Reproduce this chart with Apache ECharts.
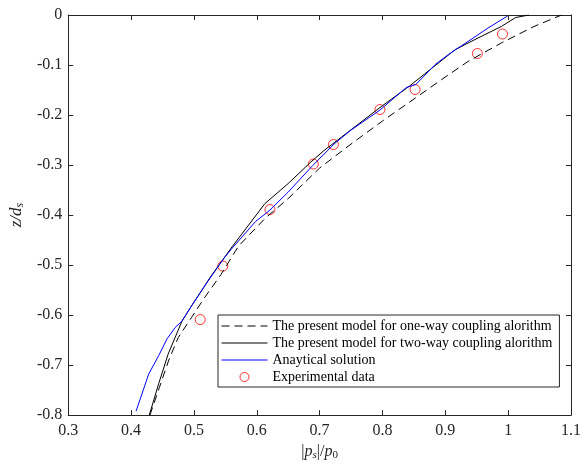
<!DOCTYPE html>
<html><head><meta charset="utf-8">
<script src="https://cdn.jsdelivr.net/npm/echarts@6/dist/echarts.min.js"></script>
<style>html,body{margin:0;padding:0;background:#fff}#c{width:584px;height:466px}</style>
</head><body><div id="c"></div>
<script>
var xTicks = [0.3, 0.4, 0.5, 0.6, 0.7, 0.8, 0.9, 1.0, 1.1];
var yTicks = [0, -0.1, -0.2, -0.3, -0.4, -0.5, -0.6, -0.7, -0.8];
var seriesNames = ['The present model for one-way coupling alorithm','The present model for two-way coupling alorithm','Anaytical solution','Experimental data'];
var oneWayX = [0.430,0.445,0.460,0.475,0.496,0.517,0.543,0.571,0.613,0.650,0.700,0.750,0.800,0.850,0.900,0.936,0.989,1.041,1.085];
var oneWayY = [-0.800,-0.745,-0.690,-0.645,-0.605,-0.565,-0.519,-0.462,-0.407,-0.367,-0.306,-0.258,-0.212,-0.168,-0.124,-0.093,-0.056,-0.023,0.000];
var twoWayX = [0.429,0.444,0.459,0.470,0.481,0.496,0.517,0.525,0.561,0.587,0.613,0.650,0.686,0.707,0.796,0.843,0.890,0.916,0.952,0.989,1.012,1.033];
var twoWayY = [-0.800,-0.737,-0.678,-0.645,-0.612,-0.582,-0.542,-0.526,-0.463,-0.420,-0.377,-0.337,-0.294,-0.271,-0.185,-0.142,-0.095,-0.069,-0.046,-0.023,-0.005,0.000];
var analyticX = [0.408,0.428,0.444,0.457,0.470,0.481,0.496,0.517,0.548,0.561,0.598,0.621,0.650,0.689,0.723,0.749,0.796,0.838,0.853,0.884,0.905,0.936,0.968,0.999];
var analyticY = [-0.792,-0.718,-0.681,-0.648,-0.625,-0.612,-0.582,-0.542,-0.486,-0.466,-0.413,-0.390,-0.354,-0.301,-0.258,-0.231,-0.190,-0.145,-0.139,-0.099,-0.079,-0.053,-0.026,-0.002];
var expX = [0.510,0.546,0.621,0.690,0.722,0.796,0.852,0.951,0.991];
var expY = [-0.609,-0.502,-0.389,-0.298,-0.259,-0.189,-0.149,-0.077,-0.038];

function pairs(xs, ys){ return xs.map(function(x,i){ return [x, ys[i]]; }); }

var axisCol = '#262626';
var serif = '"Liberation Serif","DejaVu Serif",serif';
var chart = echarts.init(document.getElementById('c'), null, {renderer:'canvas'});
var baseX = {type:'value', min:0.3, max:1.1, interval:0.1, splitLine:{show:false},
  axisLine:{show:true, onZero:false, lineStyle:{color:axisCol, width:1}},
  axisTick:{show:true, inside:true, length:5, lineStyle:{color:axisCol}}};
var baseY = {type:'value', min:-0.8, max:0, interval:0.1, splitLine:{show:false},
  axisLine:{show:true, onZero:false, lineStyle:{color:axisCol, width:1}},
  axisTick:{show:true, inside:true, length:5, lineStyle:{color:axisCol}}};
var option = {
  animation:false,
  backgroundColor:'#fff',
  grid:{left:66, right:7, top:15, bottom:48, containLabel:false},
  xAxis:[
    Object.assign({}, baseX, {position:'bottom',
      axisLabel:{show:true, color:'#262626', fontFamily:serif, fontSize:16, margin:8},
      name:'{n||}{i|p}{si|s}{n||/}{i|p}{sub|0}', nameLocation:'middle', nameGap:25,
      nameTextStyle:{color:'#262626', fontFamily:serif, fontSize:16,
        rich:{n:{fontFamily:serif,fontSize:16,color:'#262626'},
              i:{fontFamily:serif,fontSize:16,fontStyle:'italic',color:'#262626'},
              si:{fontFamily:serif,fontSize:11,fontStyle:'italic',color:'#262626',padding:[7,0,0,0]},
              sub:{fontFamily:serif,fontSize:11,color:'#262626',padding:[7,0,0,0]}}}}),
    Object.assign({}, baseX, {position:'top', axisLabel:{show:false}})
  ],
  yAxis:[
    Object.assign({}, baseY, {position:'left',
      axisLabel:{show:true, color:'#262626', fontFamily:serif, fontSize:16, margin:6},
      name:'{i|z/d}{si|s}', nameLocation:'middle', nameGap:40, nameRotate:90,
      nameTextStyle:{color:'#262626', fontFamily:serif, fontSize:17,
        rich:{i:{fontFamily:serif,fontSize:17,fontStyle:'italic',color:'#262626'},
              si:{fontFamily:serif,fontSize:12,fontStyle:'italic',color:'#262626',padding:[7,0,0,0]}}}}),
    Object.assign({}, baseY, {position:'right', axisLabel:{show:false}})
  ],
  legend:{
    orient:'vertical', left:218, top:315,
    data:[
      {name:seriesNames[0], itemStyle:{opacity:0}, lineStyle:{width:1}},
      {name:seriesNames[1], itemStyle:{opacity:0}, lineStyle:{width:1}},
      {name:seriesNames[2], itemStyle:{opacity:0}, lineStyle:{width:1}},
      {name:seriesNames[3], itemStyle:{borderWidth:1}}
    ],
    backgroundColor:'#fff', borderColor:axisCol, borderWidth:1,
    padding:[3,7,2,3], itemWidth:46, itemHeight:9, itemGap:1,
    textStyle:{fontFamily:serif, fontSize:14, color:'#000', lineHeight:16}
  },
  series:[
    {name:seriesNames[0], type:'line', data:pairs(oneWayX, oneWayY), showSymbol:false, symbol:'none',
      lineStyle:{color:'#000', width:1, type:[8,5]}, itemStyle:{color:'#000'}},
    {name:seriesNames[1], type:'line', data:pairs(twoWayX, twoWayY), showSymbol:false, symbol:'none',
      lineStyle:{color:'#000', width:1}, itemStyle:{color:'#000'}},
    {name:seriesNames[2], type:'line', data:pairs(analyticX, analyticY), showSymbol:false, symbol:'none',
      lineStyle:{color:'#0000ff', width:1}, itemStyle:{color:'#0000ff'}},
    {name:seriesNames[3], type:'scatter', data:pairs(expX, expY), symbol:'circle', symbolSize:10,
      itemStyle:{color:'rgba(255,255,255,0)', borderColor:'#ff0000', borderWidth:1}}
  ]
};
chart.setOption(option);
</script></body></html>
